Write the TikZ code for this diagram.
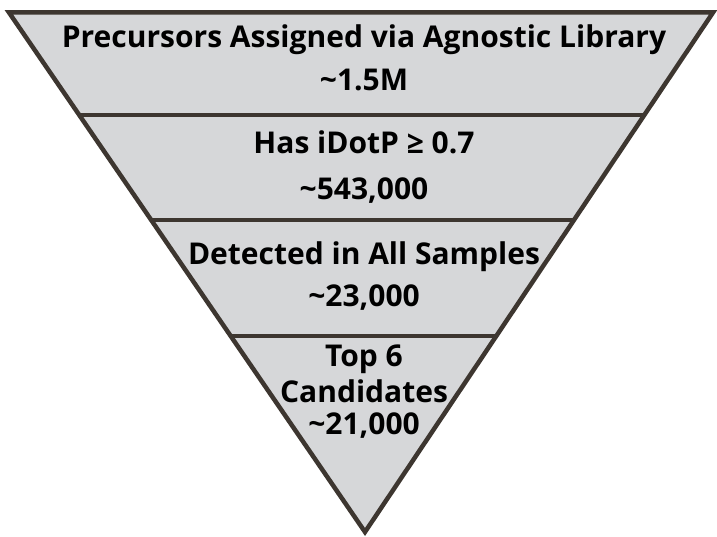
\documentclass[tikz,border=0pt]{standalone}
\usepackage{fontspec}
\setmainfont{Open Sans}
\usetikzlibrary{calc}
\definecolor{edgecol}{HTML}{3D3630}
\definecolor{fillcol}{HTML}{D6D7D9}
\tikzset{
  band/.style={draw=edgecol, line width=4.5pt},
  funnel/.style={draw=edgecol, fill=fillcol, line width=4.5pt, line join=miter, miter limit=10},
  label/.style={anchor=base, inner sep=0pt, font=\fontsize{30}{34}\selectfont\bfseries, text=black},
}
\begin{document}
\begin{tikzpicture}[x=1pt,y=-1pt]
\useasboundingbox (0,0) rectangle (717,537);
\coordinate (tl) at (9,12.5);
\coordinate (tr) at (713,12.5);
\coordinate (ap) at (365,532);
\path[funnel] (tl) -- (tr) -- (ap) -- cycle;
\coordinate (l1) at ($(tl)!0.1973!(ap)$);
\coordinate (r1) at ($(tr)!0.1973!(ap)$);
\coordinate (l2) at ($(tl)!0.3994!(ap)$);
\coordinate (r2) at ($(tr)!0.3994!(ap)$);
\coordinate (l3) at ($(tl)!0.6227!(ap)$);
\coordinate (r3) at ($(tr)!0.6227!(ap)$);
\draw[band] (l1) -- (r1);
\draw[band] (l2) -- (r2);
\draw[band] (l3) -- (r3);
\node[label] (t1) at (364,48) {Precursors Assigned via Agnostic Library};
\node[label] (v1) at (364,91) {\textasciitilde1.5M};
\node[label] (t2) at (364,154) {Has iDotP ≥ 0.7};
\node[label] (v2) at (364,200) {\textasciitilde543,000};
\node[label] (t3) at (364,265) {Detected in All Samples};
\node[label] (v3) at (364,306) {\textasciitilde23,000};
\node[label] (t4a) at (364,366) {Top 6};
\node[label] (t4b) at (364,402) {Candidates};
\node[label] (v4) at (364,434) {\textasciitilde21,000};
\end{tikzpicture}
\end{document}
